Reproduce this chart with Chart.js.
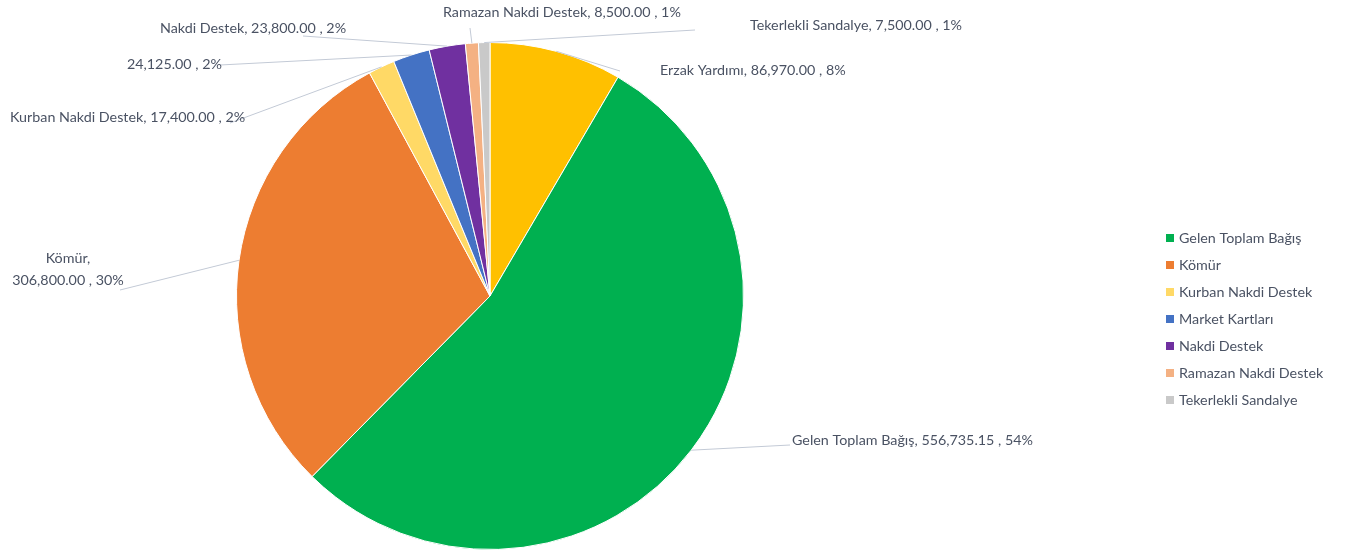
<!DOCTYPE html>
<html>
<head>
<meta charset="utf-8">
<script src="https://cdn.jsdelivr.net/npm/chart.js@4/dist/chart.umd.min.js"></script>
<style>
  html, body { margin: 0; padding: 0; background: #fff; }
  #wrap { width: 1351px; height: 551px; position: relative; }
</style>
</head>
<body>
<div id="wrap"><canvas id="pie"></canvas></div>
<script>
const categories = ['Erzak Yardımı', 'Gelen Toplam Bağış', 'Kömür', 'Kurban Nakdi Destek',
  'Market Kartları', 'Nakdi Destek', 'Ramazan Nakdi Destek', 'Tekerlekli Sandalye'];
const amounts = [86970, 556735.15, 306800, 17400, 24125, 23800, 8500, 7500];
const sliceColors = ['#FFC000', '#00B050', '#ED7D31', '#FFD966', '#4472C4', '#7030A0', '#F4B183', '#C9C9C9'];
const legendHidden = ['Erzak Yardımı'];

const FONT = '14.3px Lato, "Noto Sans", sans-serif';
const TEXT = '#4a5263';
const LEADER = '#c3cad6';

// where each data label sits and where its leader line starts
const labelLayout = [
  { x: 660, y: 70, align: 'left', from: [620, 71], name: true },
  { x: 792, y: 440, align: 'left', from: [790, 445], name: true },
  { x: 68, y: 258, align: 'center', from: [120, 290], name: true, split: true },
  { x: 10, y: 117, align: 'left', from: [230, 123], name: true },
  { x: 127, y: 64, align: 'left', from: [220, 65], name: false },
  { x: 160, y: 28, align: 'left', from: [303, 36], name: true },
  { x: 443, y: 12, align: 'left', from: [470, 28], name: true },
  { x: 750, y: 25, align: 'left', from: [695, 30], name: true }
];

const total = amounts.reduce((a, b) => a + b, 0);
const fmt = v => v.toLocaleString('en-US', { minimumFractionDigits: 2, maximumFractionDigits: 2 });

const pieLabels = {
  id: 'pieLabels',
  afterDraw(chart) {
    const ctx = chart.ctx;
    const meta = chart.getDatasetMeta(0);
    ctx.save();
    ctx.font = FONT;
    ctx.textBaseline = 'middle';
    meta.data.forEach((arc, i) => {
      const p = arc.getProps(['x', 'y', 'startAngle', 'endAngle', 'outerRadius'], true);
      const mid = (p.startAngle + p.endAngle) / 2;
      const ex = p.x + Math.cos(mid) * p.outerRadius;
      const ey = p.y + Math.sin(mid) * p.outerRadius;
      const lay = labelLayout[i];
      ctx.strokeStyle = LEADER;
      ctx.lineWidth = 1;
      ctx.beginPath();
      ctx.moveTo(lay.from[0], lay.from[1]);
      ctx.lineTo(ex, ey);
      ctx.stroke();

      const pct = Math.round(amounts[i] / total * 100) + '%';
      const tail = fmt(amounts[i]) + ' , ' + pct;
      ctx.fillStyle = TEXT;
      ctx.textAlign = lay.align;
      if (lay.split) {
        ctx.fillText(categories[i] + ',', lay.x, lay.y);
        ctx.fillText(tail, lay.x, lay.y + 22);
      } else {
        ctx.fillText(lay.name ? categories[i] + ', ' + tail : tail, lay.x, lay.y);
      }
    });
    ctx.restore();
  }
};

const sideLegend = {
  id: 'sideLegend',
  afterDraw(chart) {
    const ctx = chart.ctx;
    ctx.save();
    ctx.font = FONT;
    ctx.textBaseline = 'middle';
    ctx.textAlign = 'left';
    let y = 238;
    categories.forEach((c, i) => {
      if (legendHidden.includes(c)) return;
      ctx.fillStyle = sliceColors[i];
      ctx.fillRect(1166, y - 4, 8, 8);
      ctx.fillStyle = TEXT;
      ctx.fillText(c, 1179, y);
      y += 27;
    });
    ctx.restore();
  }
};

new Chart(document.getElementById('pie'), {
  type: 'pie',
  data: {
    labels: categories,
    datasets: [{
      data: amounts,
      backgroundColor: sliceColors,
      borderColor: '#ffffff',
      borderWidth: 1
    }]
  },
  options: {
    responsive: true,
    maintainAspectRatio: false,
    animation: false,
    layout: { padding: { left: 0, right: 371, top: 42, bottom: 1 } },
    plugins: {
      legend: { display: false },
      tooltip: { enabled: false }
    }
  },
  plugins: [pieLabels, sideLegend]
});
</script>
</body>
</html>
